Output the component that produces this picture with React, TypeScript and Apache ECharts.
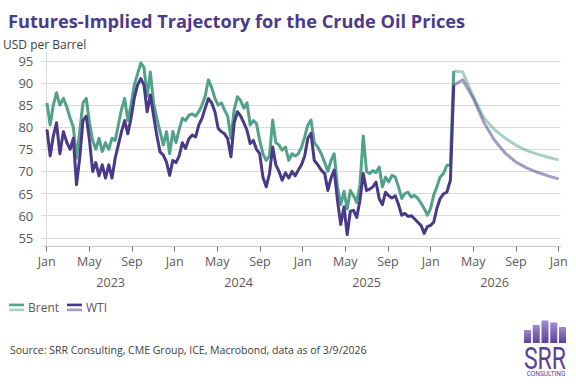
import React, { useEffect, useRef } from "react";
import * as echarts from "echarts";

// ---------- texts ----------
const TITLE = "Futures-Implied Trajectory for the Crude Oil Prices";
const Y_UNIT = "USD per Barrel";
const SOURCE = "Source: SRR Consulting, CME Group, ICE, Macrobond, data as of 3/9/2026";
const LEGEND_NAMES = ["Brent", "WTI"];

// ---------- data ----------
// Historical prices, equally spaced in time between these two dates
const HISTORY_START = "2023-01-02";
const HISTORY_END = "2026-03-06";

const brentHistory = [
  85.5, 80.5, 85, 87.8, 85, 86.5, 84.5, 82, 80, 73,
  79, 85.5, 86.5, 81, 77, 75, 77.5, 74.5, 76.5, 75,
  77.5, 77, 80.5, 84, 86.5, 81.5, 85, 89.5, 92, 94.5,
  93.5, 87, 92.5, 85.5, 82, 79, 76, 79, 74, 79,
  76.5, 79.5, 82, 81.5, 82.7, 83, 82.5, 83.5, 85, 87,
  90.7, 89, 86.5, 85, 85.5, 83.9, 82.5, 77.5, 84, 86.9,
  86, 84.3, 85.5, 80.5, 81.5, 80.8, 77, 74, 72.5, 73.5,
  81.6, 76.5, 76, 74.8, 75.5, 72.5, 74, 73.5, 74, 75.5,
  77.8, 80.5, 81.6, 76.5, 75.5, 74, 72, 70, 72.5, 74,
  66.5, 62.5, 65.5, 61.5, 65.7, 64.5, 63, 67, 78, 70,
  69.5, 70.2, 69.7, 71, 66.5, 68.7, 67.6, 69.1, 68.7, 66.5,
  63.9, 65, 65.3, 64.2, 64.6, 63.9, 62.8, 61.6, 60.1, 61.6,
  64.6, 66.5, 68.7, 69.5, 71.4, 71.4, 92.7,
];

const wtiHistory = [
  79.5, 73.5, 78, 81, 74, 79, 76.5, 75, 77.5, 67,
  73, 81.5, 82.5, 77, 70, 72, 69, 71.5, 68.5, 71.5,
  68.5, 73, 76, 79, 81.5, 78.5, 82, 86.5, 89.5, 91,
  89.5, 83.5, 87.3, 82.7, 78.2, 74.4, 73.7, 72.1, 69.1, 72.5,
  72, 73.5, 76.5, 75.2, 77.4, 78.2, 77.8, 80.5, 82, 84.3,
  86.5, 85.5, 83.5, 79.7, 79, 78.5, 77.4, 73.3, 81, 83.5,
  82.5, 81, 79.3, 76.3, 77, 75, 74, 68.7, 66.5, 69.5,
  75.5, 71.5, 70, 68, 69.7, 68.5, 70, 69, 70.3, 71.5,
  73.5, 77.5, 78.6, 72.5, 71.5, 70.3, 69.5, 65.7, 68.5, 70.3,
  63.5, 58, 62, 55.7, 61, 61.2, 59.6, 63.5, 69.5, 65.7,
  66, 66.5, 67.6, 63.8, 62.5, 65.3, 64.5, 64, 64.5, 62.5,
  60.1, 60.5, 59.8, 60, 59.3, 58.5, 57.8, 56, 57.5, 57.8,
  58.5, 61.6, 63.8, 64.9, 65.3, 68, 89.5,
];

// Futures curve (first point = last observed price)
const futureDates = [
  "2026-03-06", "2026-04-01", "2026-05-01", "2026-06-01", "2026-07-01", "2026-08-01",
  "2026-09-01", "2026-10-01", "2026-11-01", "2026-12-01", "2027-01-01",
];
const brentFutures = [92.7, 92.5, 86.9, 82.1, 79.4, 77.5, 75.9, 74.7, 73.9, 73.2, 72.6];
const wtiFutures = [89.5, 90.7, 86.5, 81.0, 77.0, 74.1, 72.1, 70.8, 69.8, 69.0, 68.3];

// axis ticks (x in months since Jan 2023)
const monthNames = ["Jan", "May", "Sep"];
const monthTickValues = [0, 4, 8, 12, 16, 20, 24, 28, 32, 36, 40, 44, 48];
const yearLabels = ["2023", "2024", "2025", "2026"];
const yearLabelValues = [6, 18, 30, 42];
const yTickValues = [55, 60, 65, 70, 75, 80, 85, 90, 95];

// ---------- styles ----------
const FONT = '"Open Sans", "Noto Sans", sans-serif';
const BRENT = "#52a18b";
const WTI = "#4a3888";
const TITLE_COLOR = "#4b3a8c";
const GRID_COLOR = "#d9d9d9";
const LABEL_COLOR = "#595959";
const LOGO_COLOR = "#5b3f98";

const BASE_YEAR = 2023;
const parseDate = (s: string) => new Date(s + "T00:00:00Z");
function monthIndex(d: Date): number {
  const y = d.getUTCFullYear();
  const m = d.getUTCMonth();
  const day = d.getUTCDate() + d.getUTCHours() / 24;
  const dim = new Date(Date.UTC(y, m + 1, 0)).getUTCDate();
  return (y - BASE_YEAR) * 12 + m + (day - 1) / dim;
}

function historyPairs(values: number[]) {
  const t0 = parseDate(HISTORY_START).getTime();
  const t1 = parseDate(HISTORY_END).getTime();
  const n = values.length;
  return values.map((v, i) => [monthIndex(new Date(t0 + ((t1 - t0) * i) / (n - 1))), v]);
}
function futurePairs(values: number[]) {
  return values.map((v, i) => [monthIndex(parseDate(futureDates[i])), v]);
}

const X_MIN = -0.22;
const X_MAX = 48.19;

export default function App() {
  const ref = useRef<HTMLDivElement>(null);

  useEffect(() => {
    if (!ref.current) return;
    const chart = echarts.init(ref.current, undefined, { renderer: "svg" });

    const lineSeries = (name: string, data: any[], color: string, opacity: number, width: number, z: number) => ({
      name,
      type: "line",
      data,
      showSymbol: false,
      symbol: "none",
      smooth: false,
      z,
      lineStyle: { color, width, opacity, join: "round" },
      itemStyle: { color },
      emphasis: { disabled: true },
    });

    const legendItem = (x: number, label: string, color: string) => [
      { type: "rect", shape: { x, y: 303.6, width: 15, height: 2.6 }, style: { fill: color } },
      { type: "rect", shape: { x, y: 308.6, width: 15, height: 2.6 }, style: { fill: color, opacity: 0.5 } },
      {
        type: "text",
        x: x + 19,
        y: 307.5,
        style: { text: label, fill: LABEL_COLOR, font: `12px ${FONT}`, verticalAlign: "middle" },
      },
    ];

    const barXs = [524, 532.75, 541.5, 550.25, 559];
    const barTops = [330, 325, 320.5, 322.5, 327];
    const BAR_BOTTOM = 343;
    const logoBars = barXs.map((bx, i) => ({
      type: "rect",
      shape: { x: bx, y: barTops[i], width: 7, height: BAR_BOTTOM - barTops[i] },
      style: {
        fill: new echarts.graphic.LinearGradient(0, 0, 0, 1, [
          { offset: 0, color: "#a08bcf" },
          { offset: 1, color: "#5d409c" },
        ]),
      },
    }));

    const option: any = {
      animation: false,
      backgroundColor: "#ffffff",
      textStyle: { fontFamily: FONT },
      grid: {
        left: 44.3,
        right: 15.3,
        top: 52,
        bottom: 137.4,
        containLabel: false,
        outerBoundsMode: "none",
      },
      xAxis: [
        {
          type: "value",
          min: X_MIN,
          max: X_MAX,
          axisLine: { show: true, lineStyle: { color: "#c8c8c8", width: 1 } },
          axisTick: {
            show: true,
            length: 5,
            customValues: monthTickValues,
            lineStyle: { color: "#6f6f6f" },
          },
          axisLabel: {
            show: true,
            customValues: monthTickValues,
            formatter: (v: number) => monthNames[Math.round(v / 4) % 3],
            margin: 8,
            color: LABEL_COLOR,
            fontSize: 12.5,
            fontFamily: FONT,
          },
          splitLine: { show: false },
        },
        {
          type: "value",
          position: "bottom",
          min: X_MIN,
          max: X_MAX,
          axisLine: { show: false },
          axisTick: { show: false },
          axisLabel: {
            show: true,
            customValues: yearLabelValues,
            formatter: (v: number) => yearLabels[Math.round((v - 6) / 12)],
            margin: 29,
            color: LABEL_COLOR,
            fontSize: 12.5,
            fontFamily: FONT,
          },
          splitLine: { show: false },
        },
      ],
      yAxis: {
        type: "value",
        min: 53,
        max: 97,
        axisLine: { show: true, lineStyle: { color: GRID_COLOR } },
        axisTick: { show: true, length: 5, customValues: yTickValues, lineStyle: { color: GRID_COLOR } },
        axisLabel: {
          show: true,
          customValues: yTickValues,
          margin: 11,
          color: LABEL_COLOR,
          fontSize: 13,
          fontFamily: FONT,
        },
        splitLine: { show: true, lineStyle: { color: GRID_COLOR, width: 1 } },
      },
      series: [
        lineSeries("Brent", historyPairs(brentHistory), BRENT, 1, 3, 3),
        lineSeries("WTI", historyPairs(wtiHistory), WTI, 1, 3, 4),
        lineSeries("Brent futures", futurePairs(brentFutures), BRENT, 0.5, 3, 5),
        lineSeries("WTI futures", futurePairs(wtiFutures), WTI, 0.5, 3, 6),
      ],
      graphic: [
        {
          type: "text",
          x: 8,
          y: 21,
          style: { text: TITLE, fill: TITLE_COLOR, font: `bold 18.2px ${FONT}`, verticalAlign: "middle" },
        },
        {
          type: "text",
          x: 3,
          y: 44.5,
          style: { text: Y_UNIT, fill: "#404040", font: `12px ${FONT}`, verticalAlign: "middle" },
        },
        ...legendItem(9, LEGEND_NAMES[0], BRENT),
        ...legendItem(67, LEGEND_NAMES[1], WTI),
        {
          type: "text",
          x: 10,
          y: 349.5,
          style: { text: SOURCE, fill: "#404040", font: `10.5px ${FONT}`, verticalAlign: "middle" },
        },
        ...logoBars,
        {
          type: "text",
          x: 566,
          y: 358,
          scaleX: 0.72,
          style: { text: "SRR", fill: LOGO_COLOR, font: "32px Roboto", align: "right", verticalAlign: "middle" },
        },
        {
          type: "text",
          x: 546,
          y: 373.5,
          style: { text: "CONSULTING", fill: LOGO_COLOR, font: "6.5px Roboto", align: "center", verticalAlign: "middle" },
        },
      ],
    };

    chart.setOption(option);
    return () => chart.dispose();
  }, []);

  return (
    <div
      ref={ref}
      style={{ position: "absolute", left: 0, top: 0, width: 576, height: 384, background: "#ffffff" }}
    />
  );
}
